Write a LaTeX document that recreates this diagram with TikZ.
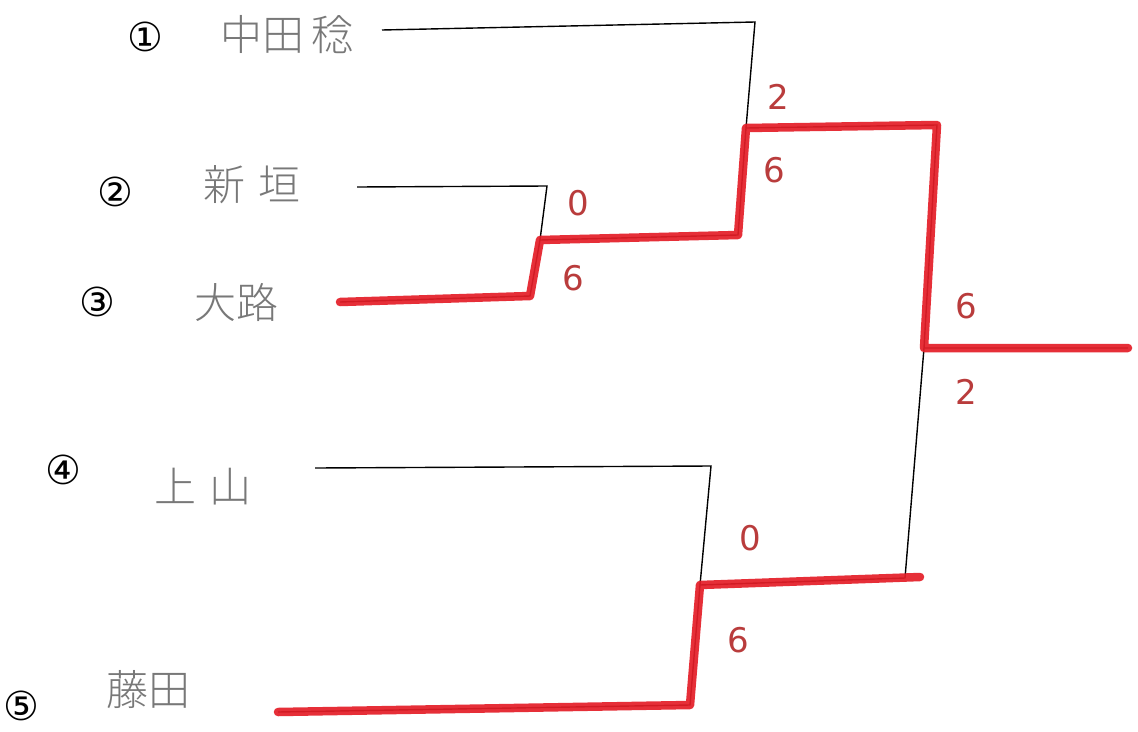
\documentclass[tikz,border=0pt]{standalone}
\usepackage{fontspec}
\setmainfont{DejaVu Sans}
\newfontfamily\jpfont{Noto Sans CJK JP Light}
\definecolor{penred}{RGB}{228,30,40}
\definecolor{inkred}{RGB}{185,60,60}
\definecolor{namegray}{RGB}{120,120,120}
\tikzset{
  seed/.style={font=\fontsize{40}{40}\selectfont, text=black, inner sep=0pt},
  player/.style={font=\jpfont\fontsize{42}{42}\selectfont, text=namegray, inner sep=0pt},
  score/.style={font=\fontsize{34}{34}\selectfont, text=inkred, inner sep=0pt},
  bline/.style={draw=black, line width=1.4pt},
  rline/.style={draw=penred, line width=8.5pt, line cap=round, line join=round, opacity=0.92}
}
\begin{document}
\begin{tikzpicture}[x=1pt,y=-1pt]
\useasboundingbox[fill=white] (0,0) rectangle (1138,731);
% seeds
\node[seed] (s1) at (145,37) {①};
\node[seed] (s2) at (115,192) {②};
\node[seed] (s3) at (97,302) {③};
\node[seed] (s4) at (63,470) {④};
\node[seed] (s5) at (21,706) {⑤};
% names
\node[player] (p1) at (287,35) {中田\,稔};
\node[player] (p2) at (252,185) {新\,\,垣};
\node[player] (p3) at (236,302) {大路};
\node[player] (p4) at (203,487) {上\,\,山};
\node[player] (p5) at (148,690) {藤田};
% coordinates
\coordinate (a1) at (382,30);
\coordinate (a1c) at (755,22);
\coordinate (a2) at (357,187);
\coordinate (a2c) at (547,186);
\coordinate (a3) at (340,302);
\coordinate (a3c) at (530,296);
\coordinate (m23) at (540,240);
\coordinate (m23e) at (738,235);
\coordinate (m123) at (746,128);
\coordinate (m123e) at (937,125);
\coordinate (fin) at (924,348);
\coordinate (champ) at (1128,348);
\coordinate (a4) at (315,468);
\coordinate (a4c) at (711,466);
\coordinate (a5) at (278,712);
\coordinate (a5c) at (690,705);
\coordinate (m45) at (700,585);
\coordinate (m45b) at (905,578);
\coordinate (m45e) at (920,577);
% black bracket
\draw[bline] (a1) -- (a1c) -- (m123);
\draw[bline] (a2) -- (a2c) -- (m23);
\draw[bline] (a3) -- (a3c) -- (m23) -- (m23e) -- (m123) -- (m123e) -- (fin) -- (champ);
\draw[bline] (a4) -- (a4c) -- (m45);
\draw[bline] (a5) -- (a5c) -- (m45) -- (m45b) -- (fin);
% red winners' path
\draw[rline] (a3) -- (a3c) -- (m23) -- (m23e) -- (m123) -- (m123e) -- (fin) -- (champ);
\draw[rline] (a5) -- (a5c) -- (m45) -- (m45e);
% scores
\node[score] (c1) at (778,97) {2};
\node[score] (c2) at (774,170) {6};
\node[score] (c3) at (578,203) {0};
\node[score] (c4) at (573,278) {6};
\node[score] (c5) at (966,306) {6};
\node[score] (c6) at (966,392) {2};
\node[score] (c7) at (750,538) {0};
\node[score] (c8) at (738,640) {6};
\end{tikzpicture}
\end{document}
